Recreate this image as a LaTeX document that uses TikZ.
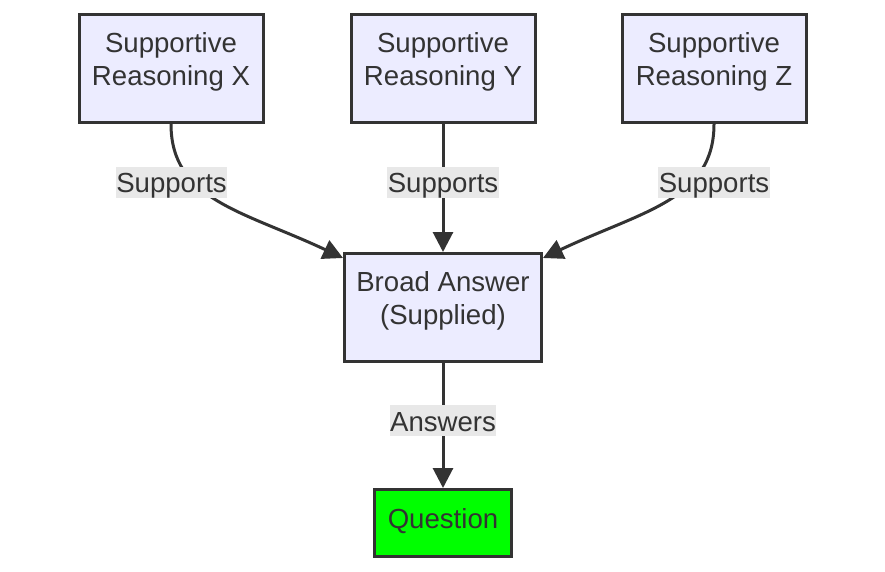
\documentclass[tikz,border=0pt]{standalone}
\usepackage{fontspec}
\setmainfont{Liberation Sans}
\usetikzlibrary{arrows.meta,positioning}
\definecolor{ink}{HTML}{333333}
\definecolor{boxfill}{HTML}{ECECFF}
\definecolor{tagfill}{HTML}{E8E8E8}
\definecolor{qfill}{HTML}{00FF00}

\begin{document}
\begin{tikzpicture}[x=1pt, y=-1pt,
    txt/.style = {text=ink, font=\fontsize{27.6pt}{32.5pt}\selectfont},
    box/.style = {txt, draw=ink, fill=boxfill, line width=3pt, inner sep=0pt,
                  minimum width=184pt, minimum height=108pt, align=center, text depth=19pt},
    qbox/.style = {box, fill=qfill, minimum width=137pt, minimum height=67pt,
                   text height=20.3pt, text depth=10pt},
    tag/.style = {txt, fill=tagfill, inner xsep=0.5pt, inner ysep=0pt,
                  text height=26pt, text depth=5pt},
    link/.style = {draw=ink, line width=3pt, -{Triangle[length=20pt,width=20pt]}}]
    \useasboundingbox (0,0) rectangle (885,572);

    \node [box] (reasonx) at (171,68.5) {Supportive\\Reasoning X};
    \node [box] (reasony) at (443,68.5) {Supportive\\Reasoning Y};
    \node [box] (reasonz) at (714,68.5) {Supportive\\Reasoning Z};
    \node [box, minimum width=197pt] (broad) at (443,307.5) {Broad Answer\\(Supplied)};
    \node [qbox] (question) at (443,523) {Question};

    \draw [link] (reasonx.south) .. controls (171,200) and (243,211) .. ([yshift=-6pt]broad.north west);
    \draw [link] (reasony.south) -- (broad.north);
    \draw [link] (reasonz.south) .. controls (714,200) and (642,211) .. ([yshift=-6pt]broad.north east);
    \draw [link] (broad.south) -- (question.north);

    \node [tag] (tagx) at (171.5,182.5) {Supports};
    \node [tag] (tagy) at (443,182.5) {Supports};
    \node [tag] (tagz) at (714,182.5) {Supports};
    \node [tag] (tagq) at (443,420.5) {Answers};
\end{tikzpicture}
\end{document}
